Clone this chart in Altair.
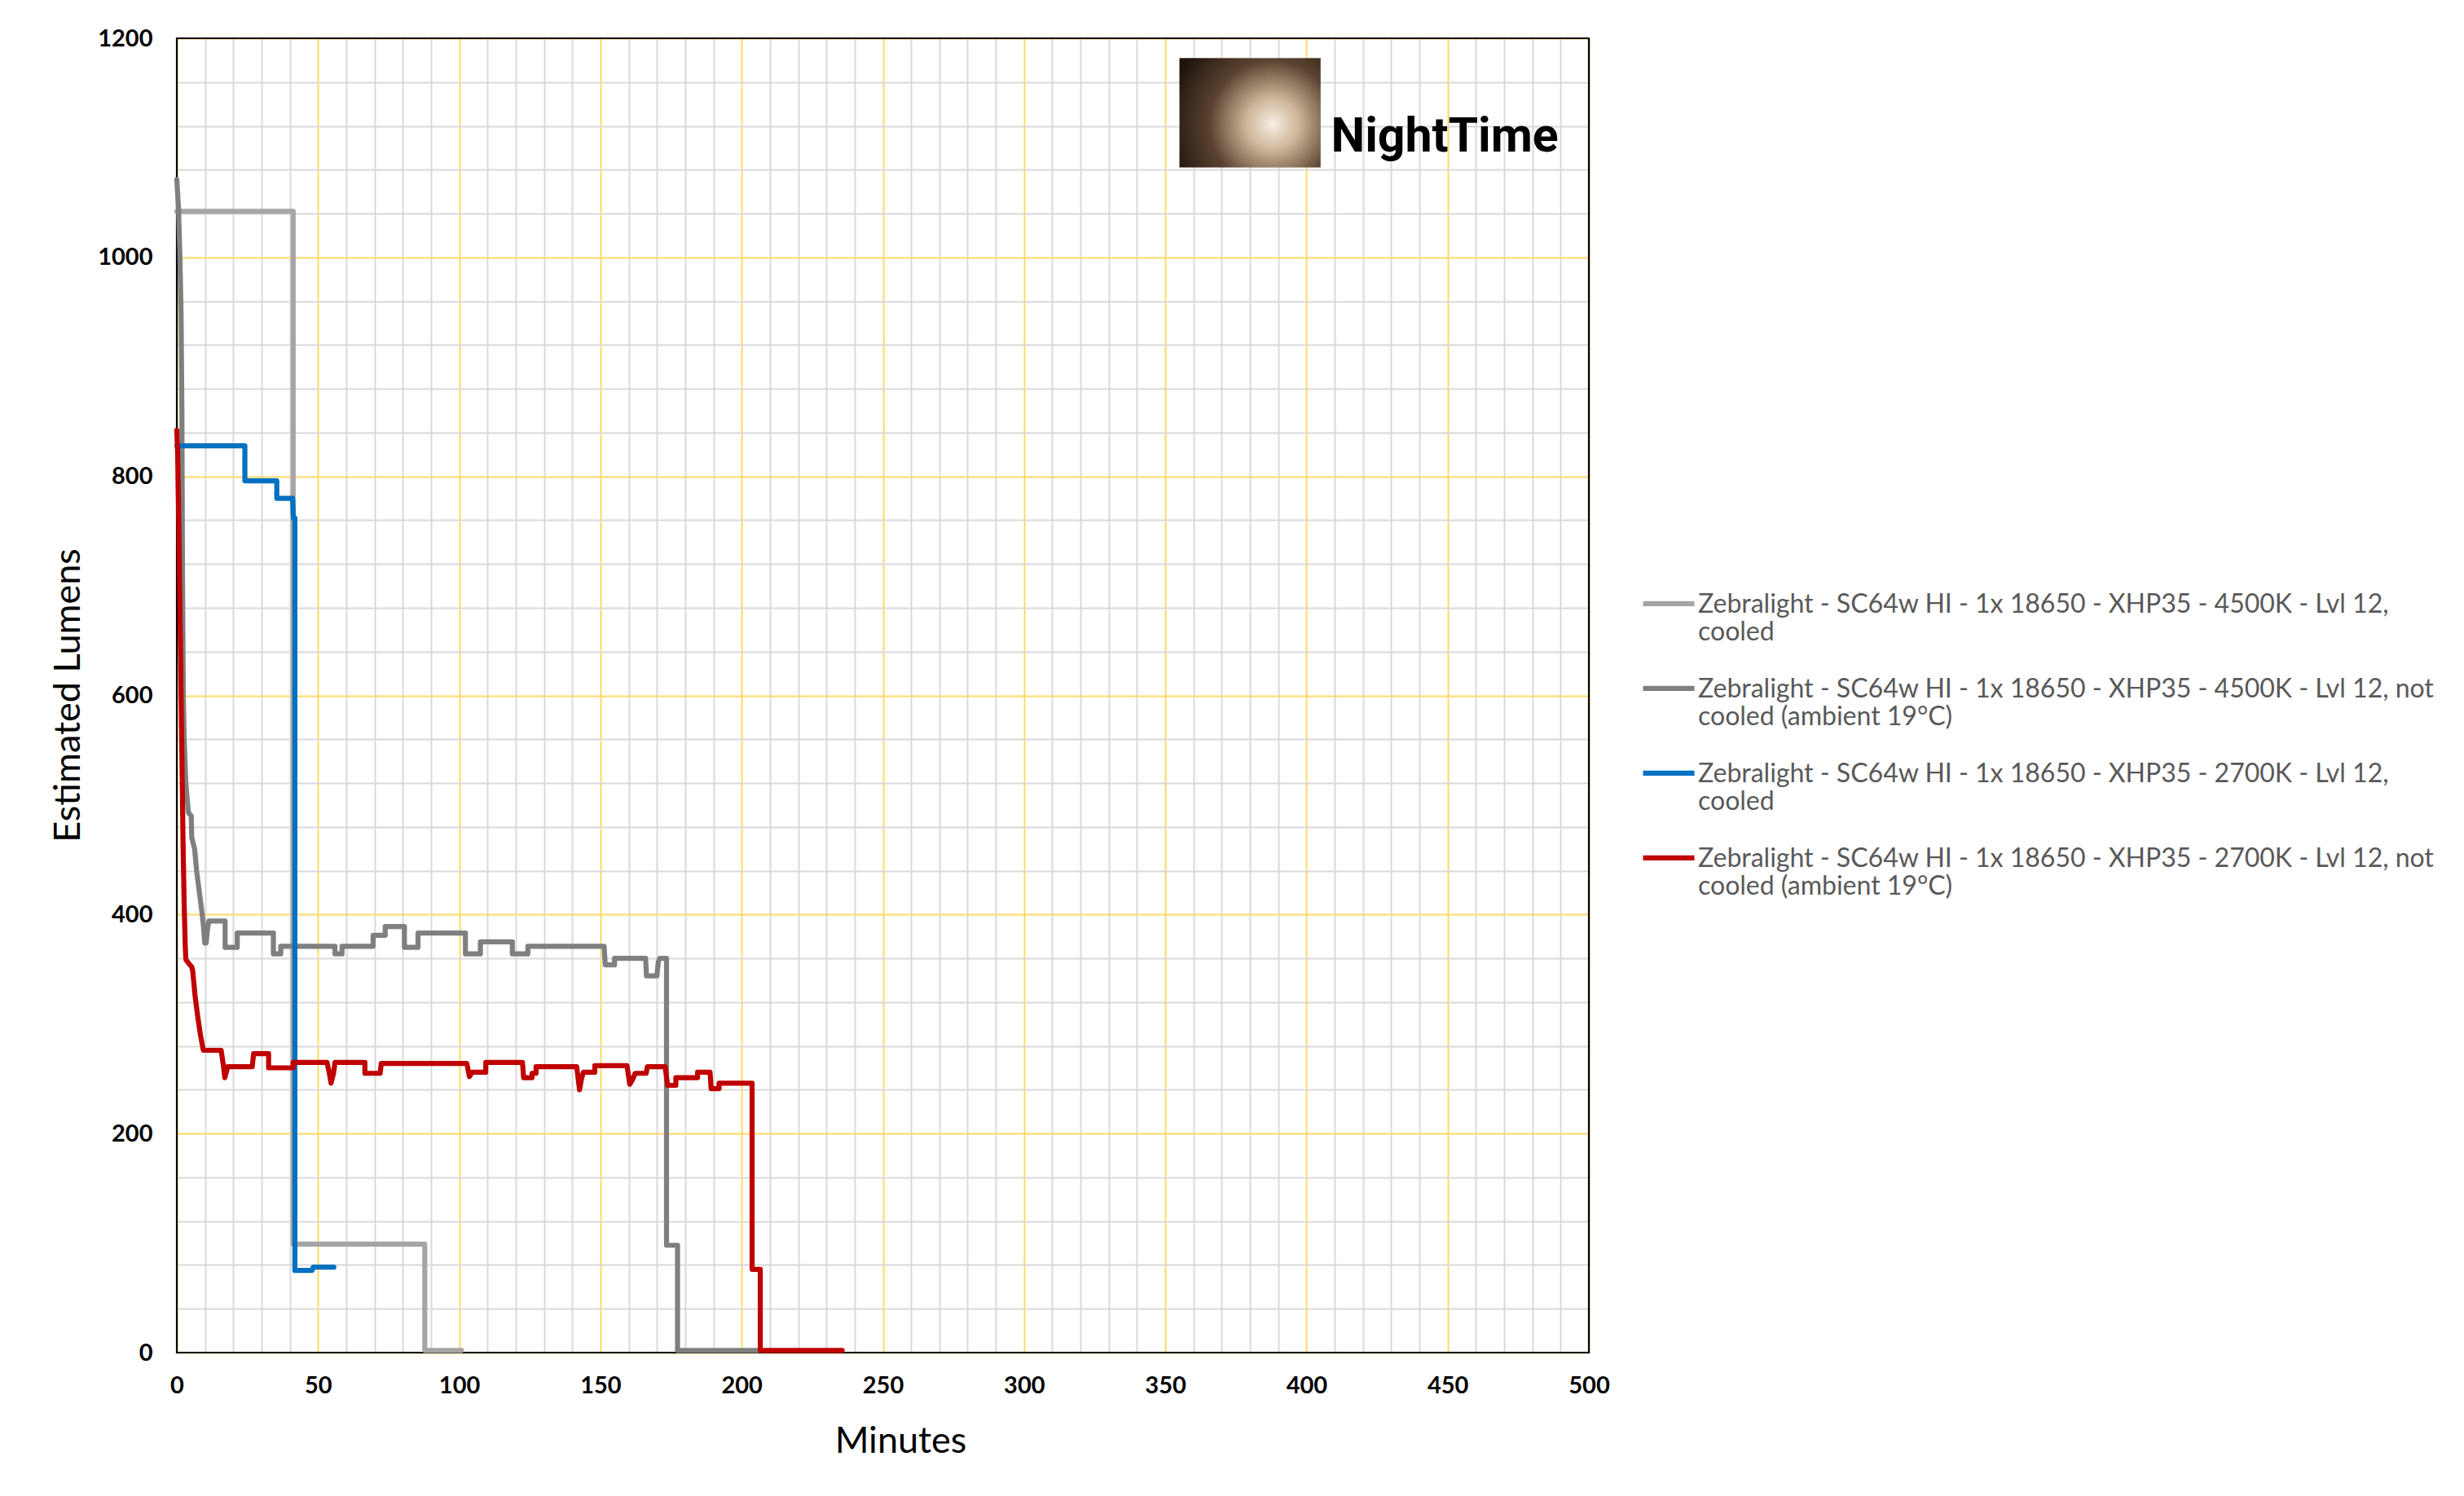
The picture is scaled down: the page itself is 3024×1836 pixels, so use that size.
import altair as alt
import pandas as pd

SERIES = [
    "Zebralight - SC64w HI - 1x 18650 - XHP35 - 4500K - Lvl 12, cooled",
    "Zebralight - SC64w HI - 1x 18650 - XHP35 - 4500K - Lvl 12, not cooled (ambient 19°C)",
    "Zebralight - SC64w HI - 1x 18650 - XHP35 - 2700K - Lvl 12, cooled",
    "Zebralight - SC64w HI - 1x 18650 - XHP35 - 2700K - Lvl 12, not cooled (ambient 19°C)",
]
COLORS = ["#A5A5A5", "#7F7F7F", "#0070C0", "#C00000"]

# 4500K cooled
LIGHT_T = [0, 41.2, 41.2, 87.8, 87.8, 100.8]
LIGHT_L = [1042, 1042, 99, 99, 2, 2]

# 4500K not cooled
DARK_T = [0, 0.6, 1.1, 1.5, 1.8, 2.0, 2.3, 2.6, 3.2, 3.7,
          4.1, 5.1, 5.3, 6.3, 7.0, 8.0, 9.0, 9.4, 9.9, 10.4,
          10.8, 11.3, 17.1, 17.1, 21.4, 21.4, 34.2, 34.2, 36.8, 36.8,
          56.0, 56.0, 58.5, 58.5, 69.5, 69.5, 73.8, 73.8, 80.6, 80.6,
          85.4, 85.4, 102.2, 102.2, 107.5, 107.5, 118.8, 118.8, 124.3, 124.3,
          151.3, 151.7, 155.0, 155.0, 166.0, 166.3, 170.0, 170.5, 171.0, 173.4,
          173.4, 177.3, 177.3, 206.0]
DARK_L = [1071, 1045, 1000, 950, 860, 720, 600, 560, 520, 505,
          493, 490, 470, 460, 440, 420, 400, 390, 374, 374,
          385, 394, 394, 370, 370, 383, 383, 364, 364, 371,
          371, 364, 364, 371, 371, 381, 381, 389, 389, 370,
          370, 383, 383, 364, 364, 375, 375, 364, 364, 371,
          371, 354, 354, 360, 360, 344, 344, 357, 360, 360,
          98, 98, 2, 2]

# 2700K cooled
BLUE_T = [0, 24.1, 24.1, 35.4, 35.4, 41.0, 41.3, 41.8, 41.8, 47.9, 48.3, 55.6]
BLUE_L = [828, 828, 796, 796, 780, 780, 762, 762, 75, 75, 78, 78]

# 2700K not cooled
RED_T = [0, 0.3, 0.8, 1.2, 1.5, 1.9, 2.2, 2.6, 3.0, 3.2,
         4.0, 5.3, 5.6, 6.5, 7.5, 8.5, 9.4, 15.7, 16.5, 17.0,
         18.0, 26.7, 26.9, 27.2, 32.5, 32.5, 41.2, 41.2, 53.2, 54.0,
         54.6, 55.5, 56.0, 66.6, 66.6, 72.0, 72.4, 102.7, 103.6, 104.6,
         109.4, 109.4, 122.4, 122.8, 125.8, 125.8, 127.2, 127.2, 141.6, 142.6,
         143.3, 144.0, 148.0, 148.0, 159.4, 160.4, 161.5, 162.3, 166.2, 166.6,
         172.9, 173.8, 176.7, 176.7, 184.4, 184.4, 188.8, 189.2, 192.0, 192.0,
         203.7, 203.7, 206.6, 206.6, 235.6]
RED_L = [842, 820, 740, 660, 600, 527, 466, 410, 370, 359,
         356, 352, 349, 325, 305, 288, 276, 276, 262, 251,
         261, 261, 266, 273, 273, 260, 260, 265, 265, 255,
         246, 255, 265, 265, 255, 255, 264, 264, 252, 256,
         256, 265, 265, 251, 251, 255, 255, 261, 261, 240,
         250, 256, 256, 262, 262, 245, 250, 255, 255, 261,
         261, 244, 244, 251, 251, 256, 256, 241, 241, 246,
         246, 76, 76, 2, 2]

X_GRID = list(range(0, 501, 10))
Y_GRID = list(range(0, 1201, 40))
X_MAJOR = [0, 50, 100, 150, 200, 250, 300, 350, 400, 450, 500]
Y_MAJOR = [0, 200, 400, 600, 800, 1000, 1200]

# plot frame (data extent)
FRAME_T = [0, 500]
FRAME_L = [0, 1200]

# logo placement (in data units)
LOGO_BOX_T = [355, 405]
LOGO_BOX_L = [1082, 1182]
LOGO_TEXT = ["NightTime"]
LOGO_TEXT_T = [408.7]
LOGO_TEXT_L = [1096.5]

rows = []
for name, ts, ls in zip(SERIES, [LIGHT_T, DARK_T, BLUE_T, RED_T], [LIGHT_L, DARK_L, BLUE_L, RED_L]):
    for i, (t, l) in enumerate(zip(ts, ls)):
        rows.append({"series": name, "idx": i, "minutes": t, "lumens": l})
df = pd.DataFrame(rows)

frame_df = pd.DataFrame({"minutes": [FRAME_T[0]], "minutes2": [FRAME_T[1]],
                         "lumens": [FRAME_L[0]], "lumens2": [FRAME_L[1]]})
logo_df = pd.DataFrame({"minutes": [LOGO_BOX_T[0]], "minutes2": [LOGO_BOX_T[1]],
                        "lumens": [LOGO_BOX_L[0]], "lumens2": [LOGO_BOX_L[1]]})
logo_txt = pd.DataFrame({"minutes": LOGO_TEXT_T, "lumens": LOGO_TEXT_L, "text": LOGO_TEXT})

FONT = "Lato"

x_axis = alt.Axis(
    values=X_GRID, format="d",
    labelExpr="datum.value % 50 === 0 ? datum.label : ''",
    gridColor={"condition": {"test": "datum.value % 50 === 0", "value": "#FFD966"}, "value": "#D9D9D9"},
    gridWidth=2, ticks=False, tickSize=0, domain=False,
    labelFont=FONT, labelFontWeight="bold", labelFontSize=29, labelColor="black",
    labelPadding=26, labelFlush=False, labelOverlap=False,
    titleFont=FONT, titleFontSize=45, titleFontWeight="normal", titleColor="black",
    titleX=888, titleY=108, titleBaseline="middle", titleAlign="center",
)
y_axis = alt.Axis(
    values=Y_GRID, format="d",
    labelExpr="datum.value % 200 === 0 ? datum.label : ''",
    gridColor={"condition": {"test": "datum.value % 200 === 0", "value": "#FFD966"}, "value": "#D9D9D9"},
    gridWidth=2, ticks=False, tickSize=0, domain=False,
    labelFont=FONT, labelFontWeight="bold", labelFontSize=29, labelColor="black",
    labelPadding=30, labelFlush=False, labelOverlap=False,
    titleFont=FONT, titleFontSize=45, titleFontWeight="normal", titleColor="black",
    titleX=-134, titleY=806, titleBaseline="middle", titleAlign="center", titleAngle=270,
)

x_enc = alt.X("minutes:Q", scale=alt.Scale(domain=[0, 500], nice=False, zero=False), axis=x_axis, title="Minutes")
y_enc = alt.Y("lumens:Q", scale=alt.Scale(domain=[0, 1200], nice=False), axis=y_axis, title="Estimated Lumens")

LABEL_EXPR = "split(replace(datum.label, ' cooled', '|cooled'), '|')"

legend = alt.Legend(
    title=None, orient="none", legendX=1796, legendY=645, padding=0,
    symbolType="M-1,0.44H1", symbolSize=3969, symbolStrokeWidth=6.4,
    labelFont=FONT, labelFontSize=32, labelColor="#595959", labelLimit=1400,
    labelBaseline="top", labelOffset=1, rowPadding=4, labelExpr=LABEL_EXPR,
)
color = alt.Color("series:N", scale=alt.Scale(domain=SERIES, range=COLORS), legend=legend)

base = alt.Chart(df).mark_line(strokeWidth=6.2, strokeCap="round", strokeJoin="round").encode(
    x=x_enc, y=y_enc, color=color, order=alt.Order("idx:Q"))
lines = [base.transform_filter(alt.datum.series == s) for s in SERIES]

frame = alt.Chart(frame_df).mark_rect(filled=False, color="black", strokeWidth=2.2).encode(
    x=x_enc, x2="minutes2:Q", y=y_enc, y2="lumens2:Q")

logo_box = alt.Chart(logo_df).mark_rect(
    color=alt.RadialGradient(
        gradient="radial",
        stops=[alt.GradientStop(offset=0, color="#f6efe2"),
               alt.GradientStop(offset=0.25, color="#cdb599"),
               alt.GradientStop(offset=0.6, color="#5a4230"),
               alt.GradientStop(offset=1, color="#1e140d")],
        x1=0.66, y1=0.58, r1=0, x2=0.66, y2=0.58, r2=0.75)
).encode(x=x_enc, x2="minutes2:Q", y=y_enc, y2="lumens2:Q")

logo_text = alt.Chart(logo_txt).mark_text(
    font="Roboto", fontWeight="bold", fontSize=59, align="left", baseline="alphabetic", color="black"
).encode(x=x_enc, y=y_enc, text="text:N")

chart = alt.layer(frame, logo_box, logo_text, *lines).properties(
    width=1733, height=1613,
    autosize=alt.AutoSizeParams(type="none"),
    padding={"left": 209, "top": 39, "right": 1066, "bottom": 168},
).configure_view(stroke="transparent").configure(font=FONT)

chart.save("out.html", embed_options={"renderer": "svg", "actions": False})
